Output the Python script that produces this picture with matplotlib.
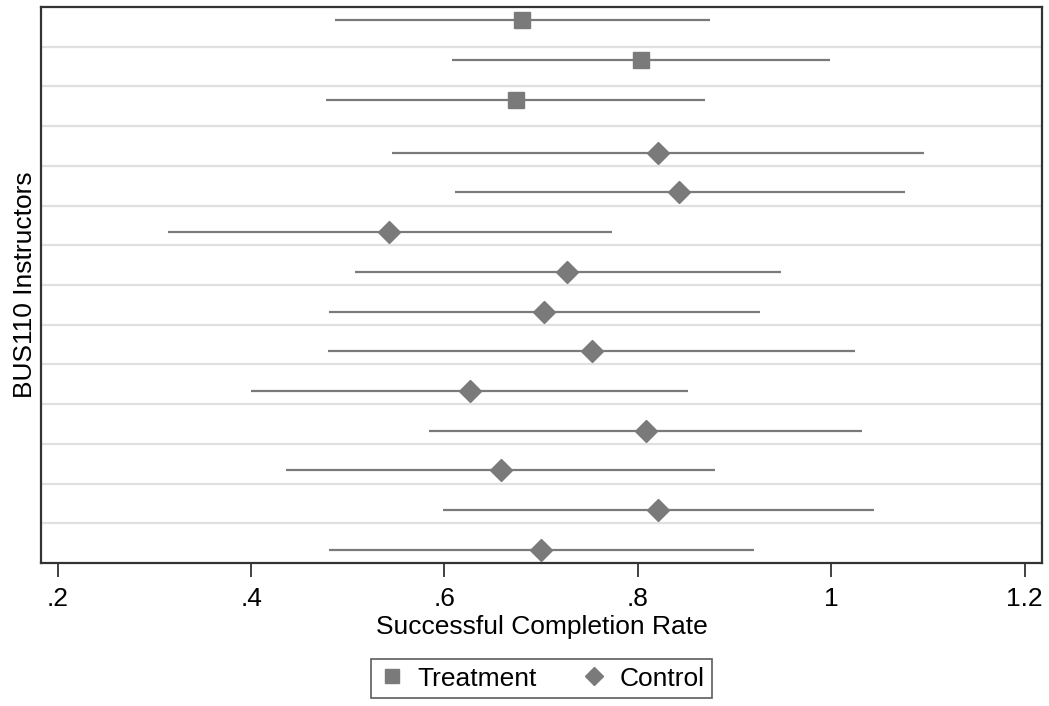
import numpy as np
import matplotlib
matplotlib.use("Agg")
import matplotlib.pyplot as plt

plt.rcParams['font.family'] = ['Liberation Sans', 'DejaVu Sans']

#################################################################################
# data, rows top to bottom
#################################################################################
treat_row = [1, 2, 3]
treat_est = [0.680, 0.803, 0.674]
treat_lo  = [0.487, 0.608, 0.478]
treat_hi  = [0.875, 0.999, 0.870]

ctrl_row = [4, 5, 6, 7, 8, 9, 10, 11, 12, 13, 14]
ctrl_est = [0.821, 0.843, 0.543, 0.727, 0.703, 0.753, 0.626, 0.808, 0.658, 0.821, 0.700]
ctrl_lo  = [0.546, 0.611, 0.314, 0.507, 0.481, 0.480, 0.400, 0.584, 0.436, 0.598, 0.481]
ctrl_hi  = [1.096, 1.076, 0.773, 0.948, 0.926, 1.025, 0.852, 1.032, 0.880, 1.044, 0.920]

xticks      = [0.2, 0.4, 0.6, 0.8, 1.0, 1.2]
xticklabels = ['.2', '.4', '.6', '.8', '1', '1.2']

#################################################################################
# plot
#################################################################################
gray  = '#7a7a7a'
off   = 0.17
nrow  = 14
fs    = 19

fig = plt.figure(figsize=(10.49, 7.06), dpi=100)
ax  = fig.add_axes([41/1049, 1-563/706, (1042-41)/1049, (563-7)/706])

# row separators
for g in np.arange(1.5, nrow, 1.0):
	ax.axhline(g, color='#e0e0e0', lw=1.6, zorder=0)

ty = np.array(treat_row) - off
cy = np.array(ctrl_row) + off
ax.hlines(ty, treat_lo, treat_hi, color=gray, lw=1.6, zorder=2)
ax.hlines(cy, ctrl_lo, ctrl_hi, color=gray, lw=1.6, zorder=2)
ax.plot(treat_est, ty, 's', color=gray, ms=11.3, mec=gray, ls='none', zorder=3, label='Treatment')
ax.plot(ctrl_est, cy, 'D', color=gray, ms=11.0, mec=gray, ls='none', zorder=3, label='Control')

ax.set_xlim(0.1827, 1.2181)
ax.set_ylim(nrow + 0.5, 0.5)
ax.set_yticks([])
ax.set_xticks(xticks)
ax.set_xticklabels(xticklabels)
ax.tick_params(axis='x', length=10, width=1.3, color='#333333', labelsize=fs, pad=7)

for s in ax.spines.values():
	s.set_color('#333333')
	s.set_linewidth(1.6)

ax.set_xlabel('Successful Completion Rate', fontsize=fs, labelpad=3)
ax.set_ylabel('BUS110 Instructors', fontsize=fs, labelpad=3)

leg = fig.legend(loc='center', bbox_to_anchor=(541.5/1049, 1-678.5/706), ncol=2,
	fontsize=fs, frameon=True, fancybox=False, edgecolor='#333333',
	handletextpad=0.45, columnspacing=1.7, borderpad=0.3, handlelength=1.0,
	markerscale=0.85)
leg.get_frame().set_linewidth(1.2)

fig.savefig('out.png', dpi=100)
